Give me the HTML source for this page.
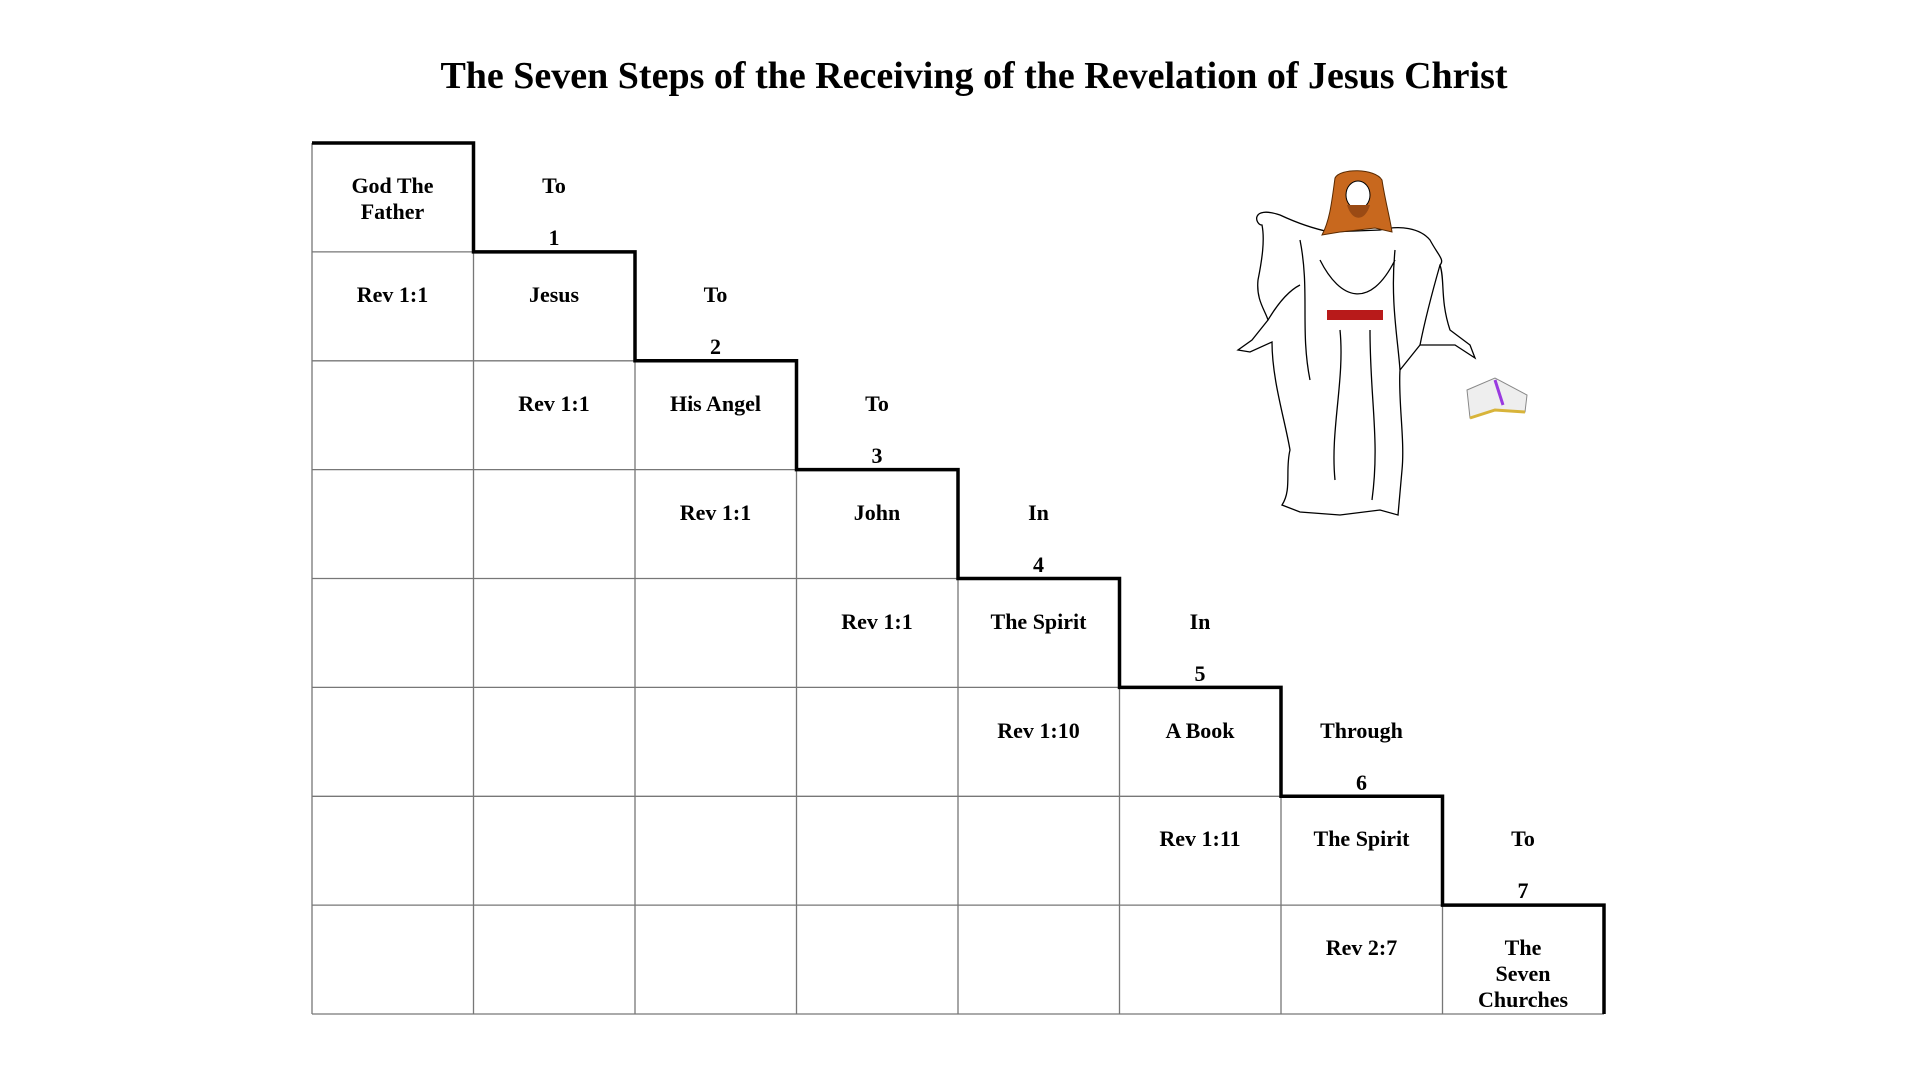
<!DOCTYPE html>
<html><head><meta charset="utf-8"><style>
html,body{margin:0;padding:0;background:#fff;}
body{width:1920px;height:1080px;position:relative;overflow:hidden;font-family:"Liberation Serif",serif;font-weight:bold;color:#000;}
.t{position:absolute;width:161px;text-align:center;font-size:22px;line-height:26px;}
h1{position:absolute;left:0;width:1948px;top:53px;margin:0;text-align:center;font-size:38px;line-height:46px;font-weight:bold;}
</style></head><body>
<h1>The Seven Steps of the Receiving of the Revelation of Jesus Christ</h1>
<svg width="1920" height="1080" style="position:absolute;left:0;top:0">
<g stroke="#777" stroke-width="1.3" fill="none">
<line x1="312" y1="143" x2="312" y2="1014"/>
<line x1="312" y1="1014" x2="1604" y2="1014"/>
<line x1="473.5" y1="251.9" x2="473.5" y2="1014"/>
<line x1="635" y1="360.8" x2="635" y2="1014"/>
<line x1="796.5" y1="469.6" x2="796.5" y2="1014"/>
<line x1="958" y1="578.5" x2="958" y2="1014"/>
<line x1="1119.5" y1="687.4" x2="1119.5" y2="1014"/>
<line x1="1281" y1="796.3" x2="1281" y2="1014"/>
<line x1="1442.5" y1="905.1" x2="1442.5" y2="1014"/>
<line x1="312" y1="251.9" x2="473.5" y2="251.9"/>
<line x1="312" y1="360.8" x2="635" y2="360.8"/>
<line x1="312" y1="469.6" x2="796.5" y2="469.6"/>
<line x1="312" y1="578.5" x2="958" y2="578.5"/>
<line x1="312" y1="687.4" x2="1119.5" y2="687.4"/>
<line x1="312" y1="796.3" x2="1281" y2="796.3"/>
<line x1="312" y1="905.1" x2="1442.5" y2="905.1"/>
</g>
<path d="M312,143 H473.5 V251.9 H635 V360.8 H796.5 V469.6 H958 V578.5 H1119.5 V687.4 H1281 V796.3 H1442.5 V905.1 H1604 V1014" stroke="#000" stroke-width="3.5" fill="none"/>
<g stroke="#000" stroke-width="1.3" fill="#fff">
<path d="M1280,215 C1250,205 1255,225 1262,225 C1265,240 1262,260 1258,280 C1256,300 1265,310 1268,320 L1252,340 L1238,350 L1250,352 L1272,342 C1272,380 1285,420 1290,450 C1285,470 1292,490 1282,505 L1300,512 L1340,515 L1380,510 L1398,515 L1402,470 C1405,440 1398,400 1400,370 L1420,345 L1455,345 L1475,358 L1470,345 L1450,330 C1440,300 1445,280 1440,265 C1445,260 1438,255 1430,240 C1420,228 1400,225 1380,230 L1330,232 C1310,228 1295,222 1280,215 Z"/>
<path d="M1300,240 C1310,290 1300,330 1310,380 M1340,330 C1345,380 1330,430 1335,480 M1370,330 C1370,400 1380,440 1372,500 M1395,250 C1390,300 1398,340 1400,370 M1320,260 C1340,300 1370,310 1395,260 M1268,320 C1280,300 1290,290 1300,285 M1420,345 C1425,320 1430,300 1440,265" fill="none"/>
</g>
<rect x="1327" y="310" width="56" height="10" fill="#b81a1a"/>
<path d="M1335,178 C1340,168 1375,168 1382,180 C1385,200 1390,218 1392,232 L1375,228 L1358,230 L1340,232 L1322,235 C1330,220 1332,200 1335,178 Z" fill="#c8681e" stroke="#5a2a00" stroke-width="1"/>
<ellipse cx="1358" cy="195" rx="12" ry="14" fill="#fff" stroke="#000" stroke-width="1"/>
<path d="M1347,205 C1352,222 1365,222 1370,205 Z" fill="#9a4a14"/>
<g>
<path d="M1467,390 L1495,378 L1527,395 L1525,412 L1495,410 L1470,418 Z" fill="#eee" stroke="#888"/>
<path d="M1470,418 L1495,410 L1525,412" stroke="#d8b43a" stroke-width="3" fill="none"/>
<line x1="1495" y1="380" x2="1503" y2="405" stroke="#9a3ae0" stroke-width="3"/>
</g>
</svg>
<div class="t" style="left:312px;top:173px">God The<br>Father</div>
<div class="t" style="left:473.5px;top:173px">To</div>
<div class="t" style="left:473.5px;top:225px">1</div>
<div class="t" style="left:312px;top:282px">Rev 1:1</div>
<div class="t" style="left:473.5px;top:282px">Jesus</div>
<div class="t" style="left:635px;top:282px">To</div>
<div class="t" style="left:635px;top:334px">2</div>
<div class="t" style="left:473.5px;top:391px">Rev 1:1</div>
<div class="t" style="left:635px;top:391px">His Angel</div>
<div class="t" style="left:796.5px;top:391px">To</div>
<div class="t" style="left:796.5px;top:443px">3</div>
<div class="t" style="left:635px;top:500px">Rev 1:1</div>
<div class="t" style="left:796.5px;top:500px">John</div>
<div class="t" style="left:958px;top:500px">In</div>
<div class="t" style="left:958px;top:552px">4</div>
<div class="t" style="left:796.5px;top:609px">Rev 1:1</div>
<div class="t" style="left:958px;top:609px">The Spirit</div>
<div class="t" style="left:1119.5px;top:609px">In</div>
<div class="t" style="left:1119.5px;top:661px">5</div>
<div class="t" style="left:958px;top:718px">Rev 1:10</div>
<div class="t" style="left:1119.5px;top:718px">A Book</div>
<div class="t" style="left:1281px;top:718px">Through</div>
<div class="t" style="left:1281px;top:770px">6</div>
<div class="t" style="left:1119.5px;top:826px">Rev 1:11</div>
<div class="t" style="left:1281px;top:826px">The Spirit</div>
<div class="t" style="left:1442.5px;top:826px">To</div>
<div class="t" style="left:1442.5px;top:878px">7</div>
<div class="t" style="left:1281px;top:935px">Rev 2:7</div>
<div class="t" style="left:1442.5px;top:935px">The<br>Seven<br>Churches</div>
</body></html>
